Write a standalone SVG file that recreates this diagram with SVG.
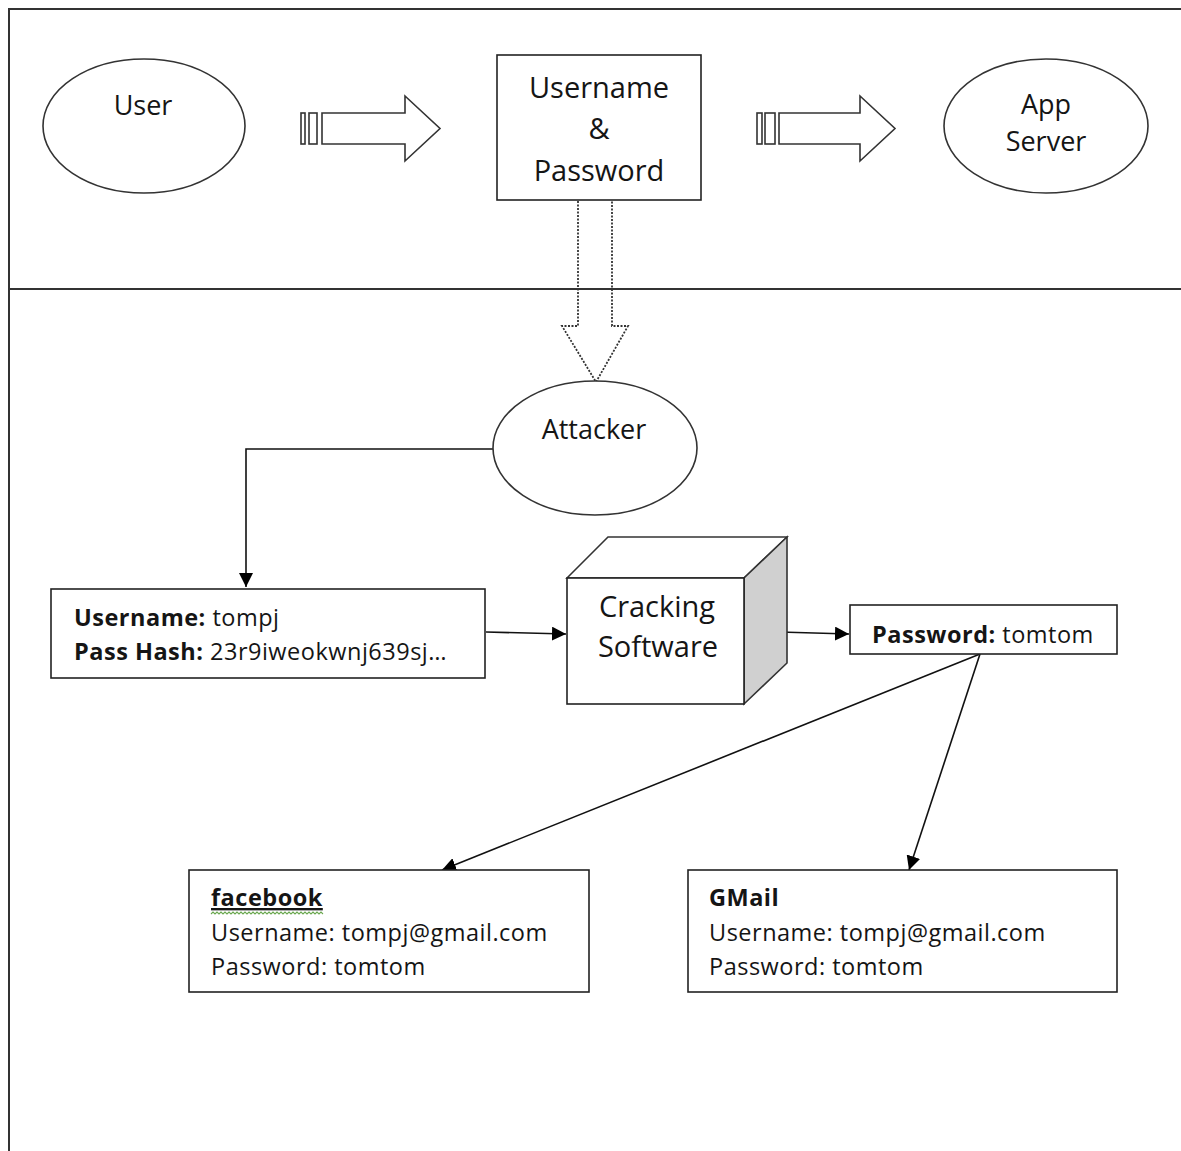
<svg xmlns="http://www.w3.org/2000/svg" width="1181" height="1151" viewBox="0 0 1181 1151">
<style>
  .ln{fill:none;stroke:#333;stroke-width:2}
  .shape{fill:#fff;stroke:#333;stroke-width:1.6}
  .box{fill:#fff;stroke:#222;stroke-width:1.6}
  .t{font-family:"Open Sans","Noto Sans",sans-serif;fill:#151515}
  .big{font-size:29px}
  .mid{font-size:27px}
  .sm{font-size:23.5px;letter-spacing:0.5px}
  .b{font-weight:bold}
  .conn{fill:none;stroke:#111;stroke-width:1.6}
</style>
<defs>
  <marker id="ah" markerUnits="userSpaceOnUse" markerWidth="16" markerHeight="14" refX="14" refY="7" orient="auto">
    <path d="M0,0 L14,7 L0,14 Z" fill="#000"/>
  </marker>
</defs>
<rect width="1181" height="1151" fill="#fff"/>
<g id="frame">
  <path class="ln" d="M9,1151 V9 H1181"/>
  <path class="ln" d="M9,289 H1181"/>
</g>
<g id="connectors">
  <path class="conn" d="M493,449 H246 V587" marker-end="url(#ah)"/>
  <path class="conn" d="M486,632 L566,634" marker-end="url(#ah)"/>
  <path class="conn" d="M745,631 L849,634" marker-end="url(#ah)"/>
  <path class="conn" d="M980,654 L442,870" marker-end="url(#ah)"/>
  <path class="conn" d="M980,654 L909,870" marker-end="url(#ah)"/>
  <g id="arrow1">
    <rect class="shape" x="301" y="113" width="4" height="31"/>
    <rect class="shape" x="309" y="113" width="8" height="31"/>
    <path class="shape" d="M322,113 H405 V96 L440,128.5 L405,161 V144 H322 Z"/>
  </g>
  <g id="arrow2">
    <rect class="shape" x="757" y="113" width="5" height="31"/>
    <rect class="shape" x="765" y="113" width="10" height="31"/>
    <path class="shape" d="M779,113 H860 V96 L895,128.5 L860,161 V144 H779 Z"/>
  </g>
  <g id="dotted-arrow">
    <path d="M578,201 V326 H562 L596,382 L628,326 H612 V201" fill="none" stroke="#333" stroke-width="1.8" stroke-dasharray="2,1.5"/>
  </g>
</g>
<g id="user">
  <ellipse class="shape" cx="144" cy="126" rx="101" ry="67"/>
  <text class="t mid" x="143" y="115" text-anchor="middle">User</text>
</g>
<g id="credentials">
  <rect class="box" x="497" y="55" width="204" height="145"/>
  <text class="t big" x="599" y="98" text-anchor="middle">Username</text>
  <text class="t big" x="599" y="139" text-anchor="middle">&amp;</text>
  <text class="t big" x="599" y="181" text-anchor="middle">Password</text>
</g>
<g id="app-server">
  <ellipse class="shape" cx="1046" cy="126" rx="102" ry="67"/>
  <text class="t mid" x="1046" y="114" text-anchor="middle">App</text>
  <text class="t mid" x="1046" y="151" text-anchor="middle">Server</text>
</g>
<g id="attacker">
  <ellipse class="shape" cx="595" cy="448" rx="102" ry="67"/>
  <text class="t mid" x="594" y="439" text-anchor="middle">Attacker</text>
</g>
<g id="hash">
  <rect class="box" x="51" y="589" width="434" height="89"/>
  <text class="t sm" x="74" y="626"><tspan class="b">Username:</tspan> tompj</text>
  <text class="t sm" x="74" y="660"><tspan class="b">Pass Hash:</tspan> 23r9iweokwnj639sj…</text>
</g>
<g id="cracking">
  <path d="M567,578 L608,537 H787 L744,578 Z" fill="#fff" stroke="#333" stroke-width="1.6"/>
  <path d="M744,578 L787,537 V663 L744,704 Z" fill="#d0d0d0" stroke="#333" stroke-width="1.6"/>
  <rect class="box" x="567" y="578" width="177" height="126"/>
  <text class="t big" x="657" y="617" text-anchor="middle">Cracking</text>
  <text class="t big" x="658" y="657" text-anchor="middle">Software</text>
</g>
<g id="password">
  <rect class="box" x="850" y="605" width="267" height="49"/>
  <text class="t sm" x="872" y="643"><tspan class="b">Password:</tspan> tomtom</text>
</g>
<g id="facebook">
  <rect class="box" x="189" y="870" width="400" height="122"/>
  <text class="t sm b" x="211" y="906" text-decoration="underline">facebook</text>
  <path d="M211,914 l2,-2 l2,2 l2,-2 l2,2 l2,-2 l2,2 l2,-2 l2,2 l2,-2 l2,2 l2,-2 l2,2 l2,-2 l2,2 l2,-2 l2,2 l2,-2 l2,2 l2,-2 l2,2 l2,-2 l2,2 l2,-2 l2,2 l2,-2 l2,2 l2,-2 l2,2 l2,-2 l2,2 l2,-2 l2,2 l2,-2 l2,2 l2,-2 l2,2 l2,-2 l2,2 l2,-2 l2,2 l2,-2 l2,2 l2,-2 l2,2 l2,-2 l2,2 l2,-2 l2,2 l2,-2 l2,2 l2,-2 l2,2 l2,-2 l2,2 l2,-2 l2,2" fill="none" stroke="#6aa84f" stroke-width="1.1"/>
  <text class="t sm" x="211" y="941">Username: tompj@gmail.com</text>
  <text class="t sm" x="211" y="975">Password: tomtom</text>
</g>
<g id="gmail">
  <rect class="box" x="688" y="870" width="429" height="122"/>
  <text class="t sm b" x="709" y="906">GMail</text>
  <text class="t sm" x="709" y="941">Username: tompj@gmail.com</text>
  <text class="t sm" x="709" y="975">Password: tomtom</text>
</g>
</svg>
